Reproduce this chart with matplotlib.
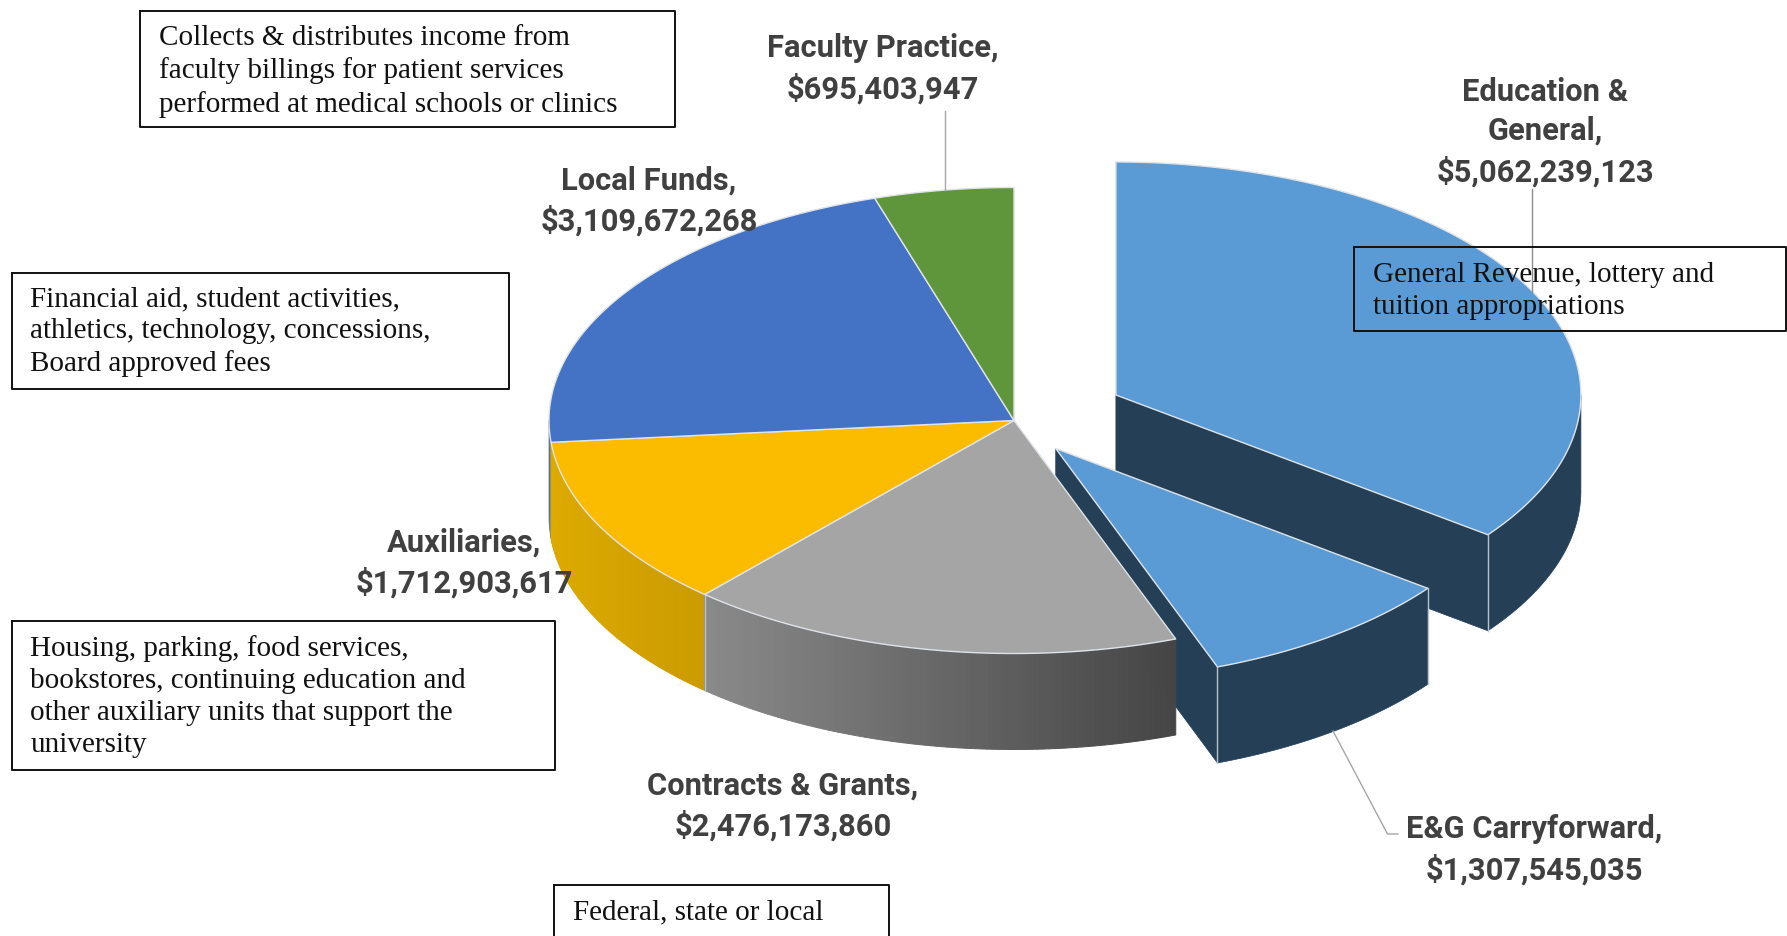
import numpy as np
import matplotlib
matplotlib.use('Agg')
from matplotlib import pyplot as plt
from matplotlib.colors import to_rgb

categories = ['Education &\nGeneral', 'E&G Carryforward', 'Contracts & Grants',
              'Auxiliaries', 'Local Funds', 'Faculty Practice']
values = [5062239123, 1307545035, 2476173860, 1712903617, 3109672268, 695403947]

top_colors = ['#5b9bd5', '#5b9bd5', '#a5a5a5', '#fbbc00', '#4472c4', '#5f963b']
side_left = ['#243f56', '#243f56', '#8a8a8a', '#dcaa00', '#5a7199', '#466f2b']
side_right = ['#243f56', '#243f56', '#454545', '#cb9b00', '#5a7199', '#466f2b']
explode = [0.245, 0.15, 0, 0, 0, 0]

notes = ['Collects & distributes income from\nfaculty billings for patient services\nperformed at medical schools or clinics',
         'Financial aid, student activities,\nathletics, technology, concessions,\nBoard approved fees',
         'Housing, parking, food services,\nbookstores, continuing education and\nother auxiliary units that support the\nuniversity',
         'Federal, state or local',
         'General Revenue, lottery and\ntuition appropriations']
# left, top, right, bottom of each note box, then text x
note_boxes = [(139.5, 11.5, 674.5, 127.5), (11.5, 273.5, 509, 390), (11.5, 622, 554.5, 771),
              (554, 885.5, 888.5, 960), (1354, 248, 1786, 332)]
note_x = [159, 30.5, 30.5, 573, 1373]
note_y = [38, 299, 648.5, 912, 275]

label_pos = [(1545, 132), (1534, 850), (783, 806), (464, 563), (649, 201), (883, 69)]

cx, cy = 1014, 421.5
rx, ry = 465, 233
depth = 96
edge = '#dfe3e8'

fig = plt.figure(figsize=(17.87, 9.37), dpi=100)
ax = fig.add_axes([0, 0, 1, 1])
ax.set_xlim(0, 1787)
ax.set_ylim(937, 0)
ax.axis('off')


def point(x0, y0, a):
    return x0 + rx * np.sin(a), y0 - ry * np.cos(a)


def draw_side(x0, y0, a0, a1, c0, c1):
    # outer wall, only the part that faces the viewer
    lo = max(a0, np.pi / 2)
    hi = min(a1, 3 * np.pi / 2)
    if lo >= hi:
        return
    flat = c0 == c1
    c0, c1 = np.array(to_rgb(c0)), np.array(to_rgb(c1))
    steps = np.linspace(lo, hi, 90)
    xs, ys = point(x0, y0, steps)
    if flat:
        ax.fill(np.r_[xs, xs[::-1]], np.r_[ys, ys[::-1] + depth], color=c0, lw=0.5,
                zorder=ax_order[0])
        ax_order[0] += 0.01
        return
    xmin, xmax = xs.min(), xs.max()
    for i in range(len(steps) - 1):
        f = (xs[i] - xmin) / max(xmax - xmin, 1)
        col = c0 + (c1 - c0) * f
        ax.fill([xs[i], xs[i + 1], xs[i + 1], xs[i]],
                [ys[i], ys[i + 1], ys[i + 1] + depth, ys[i] + depth],
                color=col, lw=0.7, zorder=ax_order[0])
        ax_order[0] += 0.0001


def draw_top(x0, y0, a0, a1, color):
    steps = np.linspace(a0, a1, 200)
    xs, ys = point(x0, y0, steps)
    ax.fill(np.r_[x0, xs], np.r_[y0, ys], facecolor=color, edgecolor=edge, lw=1,
            joinstyle='round', zorder=ax_order[0])
    ax_order[0] += 0.01


def draw_radial(x0, y0, a, color):
    px, py = point(x0, y0, a)
    ax.fill([x0, px, px, x0], [y0, py, py + depth, y0 + depth],
            color=color, lw=0.5, zorder=ax_order[0])
    ax_order[0] += 0.01


def corner(x0, y0, a):
    px, py = point(x0, y0, a)
    ax.plot([px, px], [py, py + depth], color='#b9c3cc', lw=1, zorder=ax_order[0])
    ax_order[0] += 0.01


ax_order = [1.0]
total = sum(values)
ends = np.cumsum(values) / total * 2 * np.pi
starts = np.r_[0, ends[:-1]]
centers = []
for i in range(len(values)):
    mid = (starts[i] + ends[i]) / 2
    centers.append((cx + explode[i] * rx * np.sin(mid), cy - explode[i] * ry * np.cos(mid)))

# Education & General
x0, y0 = centers[0]
draw_radial(x0, y0, ends[0], side_left[0])
draw_side(x0, y0, starts[0], ends[0], side_left[0], side_right[0])
draw_top(x0, y0, starts[0], ends[0], top_colors[0])
corner(x0, y0, ends[0])

# carryforward
x0, y0 = centers[1]
draw_radial(x0, y0, ends[1], side_left[1])
draw_side(x0, y0, starts[1], ends[1], side_left[1], side_right[1])
draw_top(x0, y0, starts[1], ends[1], top_colors[1])
corner(x0, y0, ends[1])
corner(x0, y0, starts[1])

# rest of the pie stays together, and covers the carryforward wall
for i in [4, 3, 2]:
    draw_side(cx, cy, starts[i], ends[i], side_left[i], side_right[i])
corner(cx, cy, ends[2])
for i in [2, 3, 4, 5]:
    draw_top(cx, cy, starts[i], ends[i], top_colors[i])

# labels
for name, val, pos in zip(categories, values, label_pos):
    ax.text(pos[0], pos[1], name + ',\n${:,}'.format(val), ha='center', va='center',
            family='Roboto', weight='bold', fontsize=22.2, color='#404040',
            linespacing=1.38, zorder=20)

# leader lines
ax.plot([944.7, 944.7], [112, 191], color='#a6a6a6', lw=1, zorder=10)
ax.plot([1532, 1532], [190, 293], color='#8c8c8c', lw=1, zorder=10)
ax.plot([1333, 1387.5, 1398], [732, 835, 835], color='#a6a6a6', lw=1, zorder=10)

# note boxes
for txt, box, nx, ny in zip(notes, note_boxes, note_x, note_y):
    l, t, r, b = box
    ax.plot([l, r, r, l, l], [t, t, b, b, t], color='#111111', lw=1.4, zorder=30, clip_on=True)
    ax.text(nx, ny - 13, txt, ha='left', va='top', family='Liberation Serif', fontsize=21,
            color='#111111', linespacing=1.3, zorder=31)

fig.savefig('out.png', dpi=100)
